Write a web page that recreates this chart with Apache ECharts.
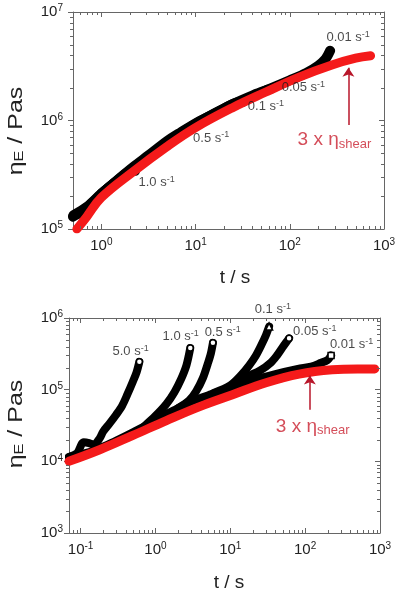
<!DOCTYPE html>
<html>
<head>
<meta charset="utf-8">
<script src="https://cdn.jsdelivr.net/npm/echarts@6/dist/echarts.min.js"></script>
<style>
  html, body { margin: 0; padding: 0; background: #fff; }
  #chart { width: 399px; height: 592px; }
</style>
</head>
<body>
<div id="chart"></div>
<script>
var FONT = '"Liberation Sans", Arial, sans-serif';

// ---- upper panel: eta_E vs t (s), log-log ----
var topShear = [[0.55, 1.0e5], [0.7, 1.3e5], [1.0, 1.95e5], [2.2, 3.4e5], [4.9, 5.7e5], [10, 8.6e5],
  [25, 1.32e6], [55, 1.82e6], [124, 2.5e6], [280, 3.25e6], [500, 3.75e6], [720, 3.95e6]];
var topRate001 = [[0.5, 1.3e5], [0.6, 1.42e5], [0.75, 1.65e5], [1.0, 2.1e5], [1.5, 2.85e5], [2.2, 3.75e5],
  [3.2, 4.8e5], [4.9, 6.4e5], [7, 7.8e5], [10, 9.4e5], [15, 1.13e6], [25, 1.42e6], [40, 1.7e6],
  [60, 1.95e6], [100, 2.35e6], [150, 2.75e6], [200, 3.2e6], [240, 3.7e6], [268, 4.4e6]];
var topRate10 = [[0.5, 1.35e5], [0.7, 1.62e5], [1.0, 2.15e5], [1.5, 2.85e5], [2.0, 3.4e5], [2.3, 3.4e5]];
var topRate05 = [[1.0, 2.15e5], [2.0, 3.5e5], [3.5, 5.0e5], [5.5, 6.6e5], [7.0, 7.2e5]];
var topRate01 = [[5, 6.4e5], [10, 9.4e5], [20, 1.3e6], [28, 1.48e6], [32, 1.47e6]];
var topRate005 = [[15, 1.13e6], [30, 1.5e6], [50, 1.83e6], [60, 1.95e6], [64, 1.95e6]];
var topRateNames = ['1.0', '0.5', '0.1', '0.05', '0.01'];
var topRateLabelAt = [[2.48, 2.7e5], [9.4, 6.9e5], [35.9, 1.34e6], [82, 2.0e6], [245, 5.8e6]];
var topShearLabelAt = [121, 6.65e5];
var topArrow = [[419, 9.1e5], [419, 3.07e6]];

// ---- lower panel ----
var botShear = [[0.07, 1.0e4], [0.18, 1.45e4], [0.5, 2.3e4], [1.4, 3.7e4], [3.9, 5.8e4], [10.7, 8.5e4],
  [30, 1.25e5], [83, 1.65e5], [230, 1.9e5], [500, 1.95e5], [850, 1.95e5]];
var botRate001 = [[0.07, 1.15e4], [0.1, 1.25e4], [0.15, 1.4e4], [0.2, 1.6e4], [0.3, 1.95e4], [0.5, 2.55e4],
  [0.8, 3.3e4], [1.2, 4.2e4], [2, 5.5e4], [3, 6.8e4], [5, 8.3e4], [10, 1.05e5], [20, 1.35e5], [40, 1.65e5],
  [80, 1.95e5], [120, 2.1e5], [160, 2.35e5], [200, 2.6e5], [222, 3.0e5]];
var botRate5 = [[0.07, 1.15e4], [0.09, 1.3e4], [0.11, 1.85e4], [0.13, 1.8e4], [0.15, 1.7e4], [0.18, 2.1e4],
  [0.2, 2.6e4], [0.24, 3.3e4], [0.3, 4.5e4], [0.36, 6.0e4], [0.42, 8.5e4], [0.5, 1.3e5], [0.56, 1.75e5],
  [0.61, 2.45e5]];
var botRate1 = [[0.7, 3.05e4], [1.0, 4.3e4], [1.4, 6.3e4], [1.8, 9.3e4], [2.2, 1.4e5], [2.6, 2.2e5], [2.92, 3.8e5]];
var botRate05 = [[2, 5.5e4], [2.8, 7.0e4], [3.5, 9.5e4], [4.3, 1.45e5], [5.0, 2.3e5], [5.5, 3.2e5], [5.86, 4.5e5]];
var botRate01 = [[6, 9.0e4], [10, 1.15e5], [14, 1.6e5], [18, 2.2e5], [22, 3.0e5], [26, 4.2e5], [30, 5.8e5], [33, 7.6e5]];
var botRate005 = [[15, 1.45e5], [25, 1.85e5], [35, 2.4e5], [42, 3.0e5], [50, 3.9e5], [56, 4.6e5], [61, 5.2e5]];
var botRateNames = ['5.0', '1.0', '0.5', '0.1', '0.05', '0.01'];
var botRateLabelAt = [[0.267, 3.4e5], [1.245, 5.5e5], [4.54, 6.2e5], [21.2, 1.31e6], [69, 6.5e5], [214, 4.25e5]];
var botShearLabelAt = [40.6, 3.08e4];
var botArrow = [[115.6, 5.26e4], [115.6, 1.58e5]];

var ranges = [
  { x: [0.5, 1000], y: [1e5, 1e7] },
  { x: [0.07, 1000], y: [1e3, 1e6] }
];

var chart = echarts.init(document.getElementById('chart'));

function pow10(v) {
  var e = Math.round(Math.log10(v));
  return '{b|10}{s|' + e + '}';
}
var powRich = {
  b: { fontSize: 15, color: '#222', fontFamily: FONT, lineHeight: 17 },
  s: { fontSize: 10, color: '#222', fontFamily: FONT, lineHeight: 11, verticalAlign: 'top' }
};
var rateRich = {
  t: { fontSize: 13, color: '#1a1a1a', fontFamily: FONT, lineHeight: 15 },
  s: { fontSize: 9, color: '#1a1a1a', fontFamily: FONT, lineHeight: 10, verticalAlign: 'top' }
};
var shearRich = {
  t: { fontSize: 19, color: '#c9202f', fontFamily: FONT, lineHeight: 22 },
  s: { fontSize: 13, color: '#c9202f', fontFamily: FONT, lineHeight: 14, verticalAlign: 'bottom' }
};

function minorValues(r) {
  var out = [];
  for (var e = Math.floor(Math.log10(r[0])); e < Math.ceil(Math.log10(r[1])); e++) {
    for (var k = 2; k <= 9; k++) {
      var v = k * Math.pow(10, e);
      if (v > r[0] * 1.0001 && v < r[1]) out.push(v);
    }
  }
  return out;
}

function axesFor(g) {
  var r = ranges[g];
  var lineStyle = { color: '#666', width: 1 };
  return {
    x: [
      { type: 'log', gridIndex: g, min: r.x[0], max: r.x[1], position: 'bottom',
        axisLine: { lineStyle: lineStyle }, axisTick: { inside: true, length: 5, lineStyle: lineStyle },
        axisLabel: { showMinLabel: false, margin: 8, formatter: pow10, rich: powRich },
        splitLine: { show: false } },
      { type: 'log', gridIndex: g, min: r.x[0], max: r.x[1], position: 'top',
        axisLine: { lineStyle: lineStyle }, axisTick: { inside: true, length: 5, lineStyle: lineStyle },
        axisLabel: { show: false }, splitLine: { show: false } }
    ],
    y: [
      { type: 'log', gridIndex: g, min: r.y[0], max: r.y[1], position: 'left',
        axisLine: { lineStyle: lineStyle }, axisTick: { inside: false, length: 5, lineStyle: lineStyle },
        axisLabel: { margin: g === 0 ? 10 : 6, formatter: pow10, rich: powRich },
        splitLine: { show: false } },
      { type: 'log', gridIndex: g, min: r.y[0], max: r.y[1], position: 'right',
        axisLine: { lineStyle: lineStyle }, axisTick: { inside: true, length: 5, lineStyle: lineStyle },
        axisLabel: { show: false }, splitLine: { show: false } }
    ]
  };
}

var a0 = axesFor(0), a1 = axesFor(1);

function minorTickSeries(g) {
  var r = ranges[g];
  var data = minorValues(r.x).map(function (v) { return [v, r.y[0], 0]; })
    .concat(minorValues(r.y).map(function (v) { return [r.x[0], v, 1]; }));
  return {
    type: 'custom', xAxisIndex: g * 2, yAxisIndex: g * 2, silent: true, z: 5,
    data: data,
    renderItem: function (params, api) {
      var cs = params.coordSys;
      var st = { stroke: '#666', lineWidth: 1 };
      if (api.value(2) === 0) {
        var px = Math.round(api.coord([api.value(0), r.y[0]])[0]) + 0.5;
        return { type: 'group', children: [
          { type: 'line', shape: { x1: px, y1: cs.y + cs.height, x2: px, y2: cs.y + cs.height - 3 }, style: st },
          { type: 'line', shape: { x1: px, y1: cs.y, x2: px, y2: cs.y + 3 }, style: st }
        ] };
      }
      var py = Math.round(api.coord([r.x[0], api.value(1)])[1]) + 0.5;
      return { type: 'group', children: [
        { type: 'line', shape: { x1: cs.x - 3, y1: py, x2: cs.x, y2: py }, style: st },
        { type: 'line', shape: { x1: cs.x + cs.width - 3, y1: py, x2: cs.x + cs.width, y2: py }, style: st }
      ] };
    }
  };
}

function blackLine(g, data, width, endSymbol) {
  var d = data.map(function (p, i) {
    if (i === data.length - 1 && endSymbol) {
      return { value: p, symbol: endSymbol, symbolSize: endSymbol === 'triangle' ? 7 : 6,
        itemStyle: { color: '#fff', borderColor: '#000', borderWidth: 1.5 } };
    }
    return p;
  });
  return {
    type: 'line', xAxisIndex: g * 2, yAxisIndex: g * 2, data: d, smooth: 0.3,
    symbol: 'none', showSymbol: true, z: 3, silent: true,
    lineStyle: { color: '#000', width: width, cap: 'round', join: 'round' }
  };
}

function shearLine(g, data, arrow) {
  return {
    type: 'line', xAxisIndex: g * 2, yAxisIndex: g * 2, data: data, smooth: 0.4,
    symbol: 'none', z: 4, silent: true,
    lineStyle: { color: '#f41a1a', width: 9, cap: 'round' },
    markLine: {
      silent: true, symbol: ['none', 'arrow'], symbolSize: 9,
      label: { show: false },
      lineStyle: { color: '#b8162a', width: 1.5, type: 'solid' },
      data: [[{ coord: arrow[0] }, { coord: arrow[1] }]]
    }
  };
}

function rateLabels(g, names, at) {
  return {
    type: 'scatter', xAxisIndex: g * 2, yAxisIndex: g * 2, symbolSize: 0, clip: false, z: 6, silent: true,
    data: at.map(function (p, i) { return { value: p, name: names[i] }; }),
    label: {
      show: true, position: 'right', distance: 0,
      formatter: function (p) { return '{t|' + p.name + ' s}{s|-1}'; },
      rich: rateRich
    }
  };
}

function shearLabel(g, at) {
  return {
    type: 'scatter', xAxisIndex: g * 2, yAxisIndex: g * 2, symbolSize: 0, clip: false, z: 6, silent: true,
    data: [at],
    label: {
      show: true, position: 'right', distance: 0,
      formatter: '{t|3 x η}{s|shear}',
      rich: shearRich
    }
  };
}

function yTitle(cy) {
  return { type: 'text', x: 16, y: cy, rotation: Math.PI / 2, scaleX: 1.25,
    style: { text: 'η{e|E} / Pas', font: '20px ' + FONT, fill: '#222', align: 'center', verticalAlign: 'middle',
      rich: { e: { fontSize: 13, fontFamily: FONT, fill: '#222', verticalAlign: 'bottom', lineHeight: 13 } } } };
}
function xTitle(cx, cy) {
  return { type: 'text', x: cx, y: cy,
    style: { text: 't / s', font: '19px ' + FONT, fill: '#222', align: 'center', verticalAlign: 'middle' } };
}

chart.setOption({
  backgroundColor: '#fff',
  animation: false,
  grid: [
    { left: 73, top: 12, width: 311, height: 217 },
    { left: 69, top: 318, width: 311, height: 215 }
  ],
  xAxis: a0.x.concat(a1.x),
  yAxis: a0.y.concat(a1.y),
  series: [
    minorTickSeries(0),
    blackLine(0, topRate10, 9),
    blackLine(0, topRate05, 9),
    blackLine(0, topRate01, 9),
    blackLine(0, topRate005, 9),
    blackLine(0, topRate001, 10),
    shearLine(0, topShear, topArrow),
    rateLabels(0, topRateNames, topRateLabelAt),
    shearLabel(0, topShearLabelAt),

    minorTickSeries(1),
    blackLine(1, botRate001, 8, 'rect'),
    blackLine(1, botRate5, 8, 'circle'),
    blackLine(1, botRate1, 8, 'circle'),
    blackLine(1, botRate05, 8, 'circle'),
    blackLine(1, botRate01, 8, 'triangle'),
    blackLine(1, botRate005, 8, 'circle'),
    shearLine(1, botShear, botArrow),
    rateLabels(1, botRateNames, botRateLabelAt),
    shearLabel(1, botShearLabelAt)
  ],
  graphic: [yTitle(131), xTitle(235, 278), yTitle(424), xTitle(229, 583)]
});
</script>
</body>
</html>
